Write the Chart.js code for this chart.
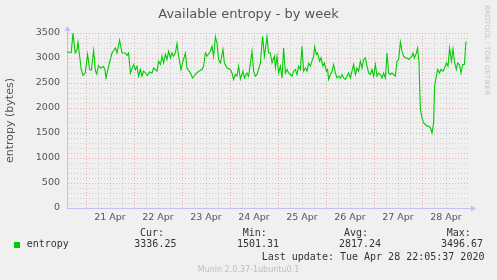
<!DOCTYPE html>
<html>
<head>
<meta charset="utf-8">
<script src="https://cdn.jsdelivr.net/npm/chart.js@4/dist/chart.umd.min.js"></script>
<style>
  html, body { margin: 0; padding: 0; background: #F0F0F0; }
  #wrap { position: relative; width: 497px; height: 280px; overflow: hidden; background: #F0F0F0; }
  canvas { position: absolute; left: 0; top: 0; }
  .t { position: absolute; white-space: pre; line-height: 10px; }
  .mono { font-family: "DejaVu Sans Mono", monospace; font-size: 10px; color: #333; }
</style>
</head>
<body>
<div id="wrap">
  <canvas id="c" width="497" height="280"></canvas>
  <div class="t" id="title" style="left:0;width:497px;top:7px;text-align:center;font-family:'DejaVu Sans';font-size:13px;line-height:13px;color:#555;"></div>
  <div class="t" id="rrd" style="left:483px;top:5px;writing-mode:vertical-rl;font-family:'DejaVu Sans';font-size:7px;line-height:8px;color:#c4c4c4;"></div>
  <div style="position:absolute;left:14px;top:242px;width:6px;height:6px;background:#00cc00;"></div>
  <div class="t mono" id="legName" style="left:26.7px;top:239.3px;"></div>
  <div class="t mono" id="h0" style="left:140px;top:228.3px;"></div>
  <div class="t mono" id="h1" style="left:242.7px;top:228.3px;"></div>
  <div class="t mono" id="h2" style="left:344px;top:228.3px;"></div>
  <div class="t mono" id="h3" style="left:446.7px;top:228.3px;"></div>
  <div class="t mono" id="v0" style="left:134.3px;top:239.3px;"></div>
  <div class="t mono" id="v1" style="left:237px;top:239.3px;"></div>
  <div class="t mono" id="v2" style="left:339px;top:239.3px;"></div>
  <div class="t mono" id="v3" style="left:441px;top:239.3px;"></div>
  <div class="t mono" id="upd" style="left:261.7px;top:251.7px;"></div>
  <div class="t" id="munin" style="left:0;width:497px;top:265px;text-align:center;font-family:'DejaVu Sans';font-size:8px;color:#bdbdbd;"></div>
</div>
<script>
// ---- data ----
const chartTitle = 'Available entropy - by week';
const yAxisTitle = 'entropy (bytes)';
const seriesName = 'entropy';
// day labels centred at noon; hours counted from 21 Apr 00:00
const dayLabels = ['21 Apr', '22 Apr', '23 Apr', '24 Apr', '25 Apr', '26 Apr', '27 Apr', '28 Apr'];
const statHeaders = ['Cur:', 'Min:', 'Avg:', 'Max:'];
const statValues = ['3336.25', '1501.31', '2817.24', '3496.67'];
const lastUpdate = 'Last update: Tue Apr 28 22:05:37 2020';
const sideText = 'RRDTOOL / TOBI OETIKER';
const footerText = 'Munin 2.0.37-1ubuntu0.1';

const hours = [
  -9.5, -7.4, -6.5, -5.4, -4.6, -4.0, -2.4, -1.5, -0.4, 0.8,
  1.8, 2.7, 3.8, 4.7, 5.4, 6.2, 7.2, 8.7, 9.4, 10.0,
  11.3, 13.0, 13.8, 14.7, 15.5, 16.8, 18.0, 19.7, 20.5, 21.3,
  22.2, 23.8, 24.7, 25.5, 26.3, 27.2, 28.0, 28.8, 29.7, 30.7,
  31.7, 33.0, 33.8, 35.5, 36.3, 37.2, 38.0, 38.8, 39.7, 40.5,
  41.3, 42.2, 43.0, 43.8, 44.7, 45.5, 46.3, 47.5, 48.5, 49.7,
  50.5, 52.2, 53.3, 54.7, 56.3, 58.0, 58.8, 59.7, 60.5, 62.2,
  63.0, 63.8, 64.7, 65.5, 66.3, 67.2, 68.5, 69.2, 70.5, 72.2,
  73.0, 73.8, 74.7, 75.5, 76.3, 77.2, 78.5, 79.2, 80.5, 81.3,
  83.0, 83.8, 84.7, 85.5, 87.2, 88.3, 89.2, 90.5, 91.3, 92.2,
  93.0, 94.2, 94.7, 95.5, 96.3, 97.2, 98.0, 98.8, 99.7, 100.5,
  101.3, 102.2, 103.0, 103.8, 104.7, 105.5, 106.3, 107.2, 108.0, 108.8,
  109.7, 110.5, 111.3, 112.2, 113.0, 113.8, 114.3, 115.2, 115.8, 116.8,
  117.5, 118.5, 119.2, 120.2, 120.8, 121.3, 122.2, 123.0, 123.8, 124.7,
  125.5, 126.3, 127.2, 128.0, 128.8, 129.7, 130.5, 131.3, 132.2, 133.0,
  133.8, 134.7, 135.5, 136.3, 137.2, 138.0, 138.8, 139.7, 140.5, 141.3,
  142.2, 143.0, 143.8, 144.7, 145.5, 146.3, 147.2, 148.0, 148.8, 149.7,
  150.5, 151.3, 152.2, 153.0, 153.8, 154.7, 155.5, 156.3, 157.2, 158.0,
  158.8, 159.7, 160.5, 161.3, 162.2, 163.0, 163.5, 164.2, 165.2, 165.8,
  166.5, 167.2, 168.0, 168.8, 169.7, 170.5, 171.3, 172.2, 173.0, 173.8,
  174.3, 175.0, 175.8, 176.7, 177.5, 178.5, 179.3, 180.2, 181.0, 181.8,
  182.7, 183.5, 184.3, 185.2, 185.8, 186.7, 187.5, 188.3, 189.2, 190.0
];
const entropy = [
  3120, 3110, 3497, 3100, 3150, 3316, 2770, 2650, 2700, 3070,
  2770, 2760, 3150, 2750, 2680, 2850, 2800, 2830, 2780, 2600,
  2836, 3100, 3150, 3200, 3100, 3356, 3100, 3100, 3050, 3100,
  2700, 2870, 2770, 2836, 2636, 2770, 2636, 2740, 2700, 2650,
  2720, 2700, 2800, 2736, 2936, 2870, 3036, 2900, 3070, 2970,
  3136, 3000, 3100, 3036, 3100, 3290, 3036, 2770, 2936, 3100,
  2800, 2700, 2600, 2670, 2736, 2770, 2836, 3100, 3036, 3136,
  3236, 3036, 3424, 3300, 2970, 2900, 3170, 2900, 2800, 2770,
  2700, 2570, 2670, 2640, 2836, 2580, 2736, 2600, 2700, 2636,
  3136, 2736, 2636, 2670, 2900, 3436, 3036, 3424, 3100, 3100,
  2900, 3036, 2800, 3036, 2700, 2836, 2600, 3200, 2700, 2770,
  2700, 2670, 2636, 2736, 2770, 2670, 2836, 2770, 3236, 2736,
  2800, 2736, 2900, 2836, 2936, 3036, 3224, 3070, 3100, 2936,
  3003, 2836, 2900, 2736, 2770, 2570, 2670, 2736, 2870, 2700,
  2600, 2636, 2600, 2670, 2600, 2570, 2636, 2700, 2600, 2736,
  2870, 2670, 2800, 2736, 2936, 2800, 2970, 3003, 2836, 2700,
  2670, 2770, 2636, 2870, 2636, 2700, 2670, 2600, 2700, 2600,
  3100, 2700, 2670, 2700, 2670, 2636, 2936, 2970, 3316, 3136,
  3036, 3003, 3000, 2970, 3003, 3036, 3100, 3003, 3100, 3200,
  2900, 1970, 1804, 1704, 1670, 1636, 1640, 1604, 1501, 1704,
  2436, 2600, 2770, 2700, 2770, 2736, 2800, 2900, 2836, 3200,
  2936, 3180, 2900, 2770, 2900, 2870, 2700, 2870, 2870, 3336
];

// ---- text ----
document.getElementById('title').textContent = chartTitle;
document.getElementById('rrd').textContent = sideText;
document.getElementById('legName').textContent = seriesName;
statHeaders.forEach((h, i) => document.getElementById('h' + i).textContent = h);
statValues.forEach((v, i) => document.getElementById('v' + i).textContent = v);
document.getElementById('upd').textContent = lastUpdate;
document.getElementById('munin').textContent = footerText;

const AXIS = '#c0c0f4';
const MAJOR = 'rgba(235,120,120,0.6)';
const MINOR = 'rgba(195,195,195,0.7)';

const axisArrows = {
  id: 'axisArrows',
  afterDraw(chart) {
    const a = chart.chartArea, ctx = chart.ctx;
    ctx.save();
    ctx.strokeStyle = AXIS; ctx.fillStyle = AXIS; ctx.lineWidth = 1;
    ctx.beginPath();
    ctx.moveTo(a.left + 0.5, a.top); ctx.lineTo(a.left + 0.5, a.top - 3);
    ctx.moveTo(a.right, a.bottom + 0.5); ctx.lineTo(a.right + 3, a.bottom + 0.5);
    ctx.stroke();
    ctx.beginPath();
    ctx.moveTo(a.left - 2.5, a.top - 2); ctx.lineTo(a.left + 3.5, a.top - 2); ctx.lineTo(a.left + 0.5, a.top - 7); ctx.closePath(); ctx.fill();
    ctx.beginPath();
    ctx.moveTo(a.right + 2, a.bottom - 2.5); ctx.lineTo(a.right + 2, a.bottom + 3.5); ctx.lineTo(a.right + 7, a.bottom + 0.5); ctx.closePath(); ctx.fill();
    ctx.restore();
  }
};

new Chart(document.getElementById('c'), {
  type: 'line',
  data: {
    datasets: [{
      label: seriesName,
      data: hours.map((h, i) => ({ x: h, y: entropy[i] })),
      borderColor: '#00cc00',
      borderWidth: 1.1,
      pointRadius: 0,
      tension: 0,
      fill: false
    }]
  },
  options: {
    responsive: false,
    animation: false,
    devicePixelRatio: 1,
    layout: { padding: { left: 0, top: 33, right: 28, bottom: 50 } },
    plugins: { legend: { display: false }, title: { display: false }, tooltip: { enabled: false } },
    scales: {
      x: {
        type: 'linear',
        min: -9.5,
        max: 191.5,
        afterFit(s) { s.height = 22; },
        ticks: {
          stepSize: 6,
          autoSkip: false,
          maxRotation: 0,
          minRotation: 0,
          maxTicksLimit: 1000,
          padding: 4,
          color: '#555',
          font: { family: 'DejaVu Sans', size: 9.5 },
          callback(v) {
            if (Math.abs(v % 24 - 12) < 1e-6) { const i = Math.round((v - 12) / 24); return dayLabels[i] || ''; }
            return '';
          }
        },
        grid: {
          drawTicks: false,
          lineWidth: 1,
          color(ctx) {
            const v = ctx.tick ? ctx.tick.value : NaN;
            if (Math.abs(v % 6) > 1e-6 && Math.abs(v % 6) < 6 - 1e-6) return 'rgba(0,0,0,0)';
            if (v <= -9.5 || v >= 191.5) return 'rgba(0,0,0,0)';
            return Math.abs(v % 24) < 1e-6 ? MAJOR : MINOR;
          }
        },
        border: { display: true, color: AXIS, width: 1, dash: [1, 2] }
      },
      y: {
        min: 0,
        max: 3500,
        afterFit(s) { s.width = 67; },
        title: {
          display: true,
          text: yAxisTitle,
          color: '#555',
          font: { family: 'DejaVu Sans', size: 11 },
          padding: { top: 4, bottom: 0 }
        },
        ticks: {
          stepSize: 100,
          autoSkip: false,
          maxTicksLimit: 1000,
          padding: 7,
          color: '#555',
          font: { family: 'DejaVu Sans', size: 9.5 },
          callback(v) { return v % 500 === 0 ? String(v) : ''; }
        },
        grid: {
          drawTicks: false,
          lineWidth: 1,
          color(ctx) {
            const v = ctx.tick ? ctx.tick.value : 0;
            if (v === 0) return 'rgba(0,0,0,0)';
            return v % 500 === 0 ? MAJOR : MINOR;
          }
        },
        border: { display: true, color: AXIS, width: 1, dash: [1, 2] }
      }
    }
  },
  plugins: [axisArrows]
});
</script>
</body>
</html>
